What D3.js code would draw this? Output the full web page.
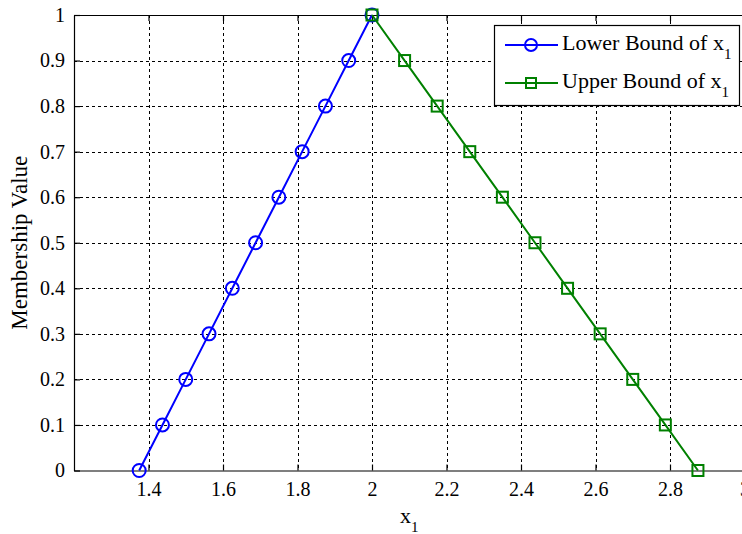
<!DOCTYPE html>
<html><head><meta charset="utf-8">
<script src="https://cdn.jsdelivr.net/npm/d3@7"></script>
<style>body{margin:0;background:#fff;overflow:hidden}svg{display:block}</style>
</head><body>
<script>
const membership = [0,0.1,0.2,0.3,0.4,0.5,0.6,0.7,0.8,0.9,1];
const lowerX = [1.375,1.4375,1.5,1.5625,1.625,1.6875,1.75,1.8125,1.875,1.9375,2.0];
const upperMembership = [1,0.9,0.8,0.7,0.6,0.5,0.4,0.3,0.2,0.1,0];
const upperX = [2.0,2.0875,2.175,2.2625,2.35,2.4375,2.525,2.6125,2.7,2.7875,2.875];
const xTicks = [1.4,1.6,1.8,2,2.2,2.4,2.6,2.8,3];
const yTicks = [0,0.1,0.2,0.3,0.4,0.5,0.6,0.7,0.8,0.9,1];

const W=742,H=534;
const L=74,T=15,R=744.5,B=470.5;
const font="'Liberation Serif','Times New Roman',serif";
const svg=d3.select("body").append("svg").attr("width",W).attr("height",H);
const x=d3.scaleLinear().domain([1.2,3]).range([L,R]);
const y=d3.scaleLinear().domain([0,1]).range([B,T]);

// grid
const g=svg.append("g");
g.selectAll(".gx").data(xTicks.filter(v=>v<3)).enter().append("line")
 .attr("x1",d=>Math.round(x(d))+0.5).attr("x2",d=>Math.round(x(d))+0.5)
 .attr("y1",T).attr("y2",B).attr("stroke","#000").attr("stroke-width",1).attr("stroke-dasharray","3,3");
g.selectAll(".gy").data(yTicks.filter(v=>v>0&&v<1)).enter().append("line")
 .attr("y1",d=>Math.round(y(d))+0.5).attr("y2",d=>Math.round(y(d))+0.5)
 .attr("x1",L).attr("x2",R).attr("stroke","#000").attr("stroke-width",1).attr("stroke-dasharray","3,3");

// axes
const xb=svg.append("g").attr("transform",`translate(0,${B})`)
 .call(d3.axisBottom(x).tickValues(xTicks).tickFormat(d3.format("~g")).tickSizeInner(-6).tickSizeOuter(0).tickPadding(11));
const xt=svg.append("g").attr("transform",`translate(0,${T})`)
 .call(d3.axisTop(x).tickValues(xTicks).tickFormat("").tickSizeInner(-6).tickSizeOuter(0));
const yl=svg.append("g").attr("transform",`translate(${L},0)`)
 .call(d3.axisLeft(y).tickValues(yTicks).tickFormat(d3.format("~g")).tickSizeInner(-6).tickSizeOuter(0).tickPadding(9));
[xb,xt,yl].forEach(a=>{a.selectAll("path,line").attr("stroke","#000").attr("stroke-width",1.2);
 a.selectAll("text").attr("font-family",font).attr("font-size",20).attr("fill","#000");});

// data
const lowerData=lowerX.map((v,i)=>[v,membership[i]]);
const upperData=upperX.map((v,i)=>[v,upperMembership[i]]);
const line=d3.line().x(d=>x(d[0])).y(d=>y(d[1]));
svg.append("path").datum(lowerData).attr("d",line).attr("fill","none").attr("stroke","#0000ff").attr("stroke-width",2);
svg.append("path").datum(upperData).attr("d",line).attr("fill","none").attr("stroke","#008000").attr("stroke-width",2);
svg.selectAll(".c").data(lowerData).enter().append("circle")
 .attr("cx",d=>x(d[0])).attr("cy",d=>y(d[1])).attr("r",6.5).attr("fill","none").attr("stroke","#0000ff").attr("stroke-width",2);
svg.selectAll(".s").data(upperData).enter().append("rect")
 .attr("x",d=>x(d[0])-5.5).attr("y",d=>y(d[1])-5.5).attr("width",11).attr("height",11).attr("fill","none").attr("stroke","#008000").attr("stroke-width",2);

// labels
const xl=svg.append("text").attr("x",400).attr("y",523)
 .attr("font-family",font).attr("font-size",22);
xl.append("tspan").text("x");
xl.append("tspan").attr("font-size",15).attr("dy",9).text("1");
svg.append("text").attr("transform",`translate(27,${(T+B)/2}) rotate(-90)`).attr("text-anchor","middle")
 .attr("font-family",font).attr("font-size",23).text("Membership Value");

// legend
const lg=svg.append("g");
lg.append("rect").attr("x",494.5).attr("y",25.5).attr("width",245).attr("height",80).attr("fill","#fff").attr("stroke","#000").attr("stroke-width",1.2);
const items=[{name:"Lower Bound of ",c:"#0000ff",m:"circle",yy:45},{name:"Upper Bound of ",c:"#008000",m:"square",yy:83}];
items.forEach(it=>{
  lg.append("line").attr("x1",505).attr("x2",558).attr("y1",it.yy).attr("y2",it.yy).attr("stroke",it.c).attr("stroke-width",2);
  if(it.m==="circle") lg.append("circle").attr("cx",531).attr("cy",it.yy).attr("r",6).attr("fill","none").attr("stroke",it.c).attr("stroke-width",2);
  else lg.append("rect").attr("x",526).attr("y",it.yy-5).attr("width",10).attr("height",10).attr("fill","none").attr("stroke",it.c).attr("stroke-width",2);
  const t=lg.append("text").attr("x",562).attr("y",it.yy+5).attr("font-family",font).attr("font-size",22);
  t.append("tspan").text(it.name+"x");
  t.append("tspan").attr("font-size",15).attr("dy",9).text("1");
});
</script>
</body></html>
